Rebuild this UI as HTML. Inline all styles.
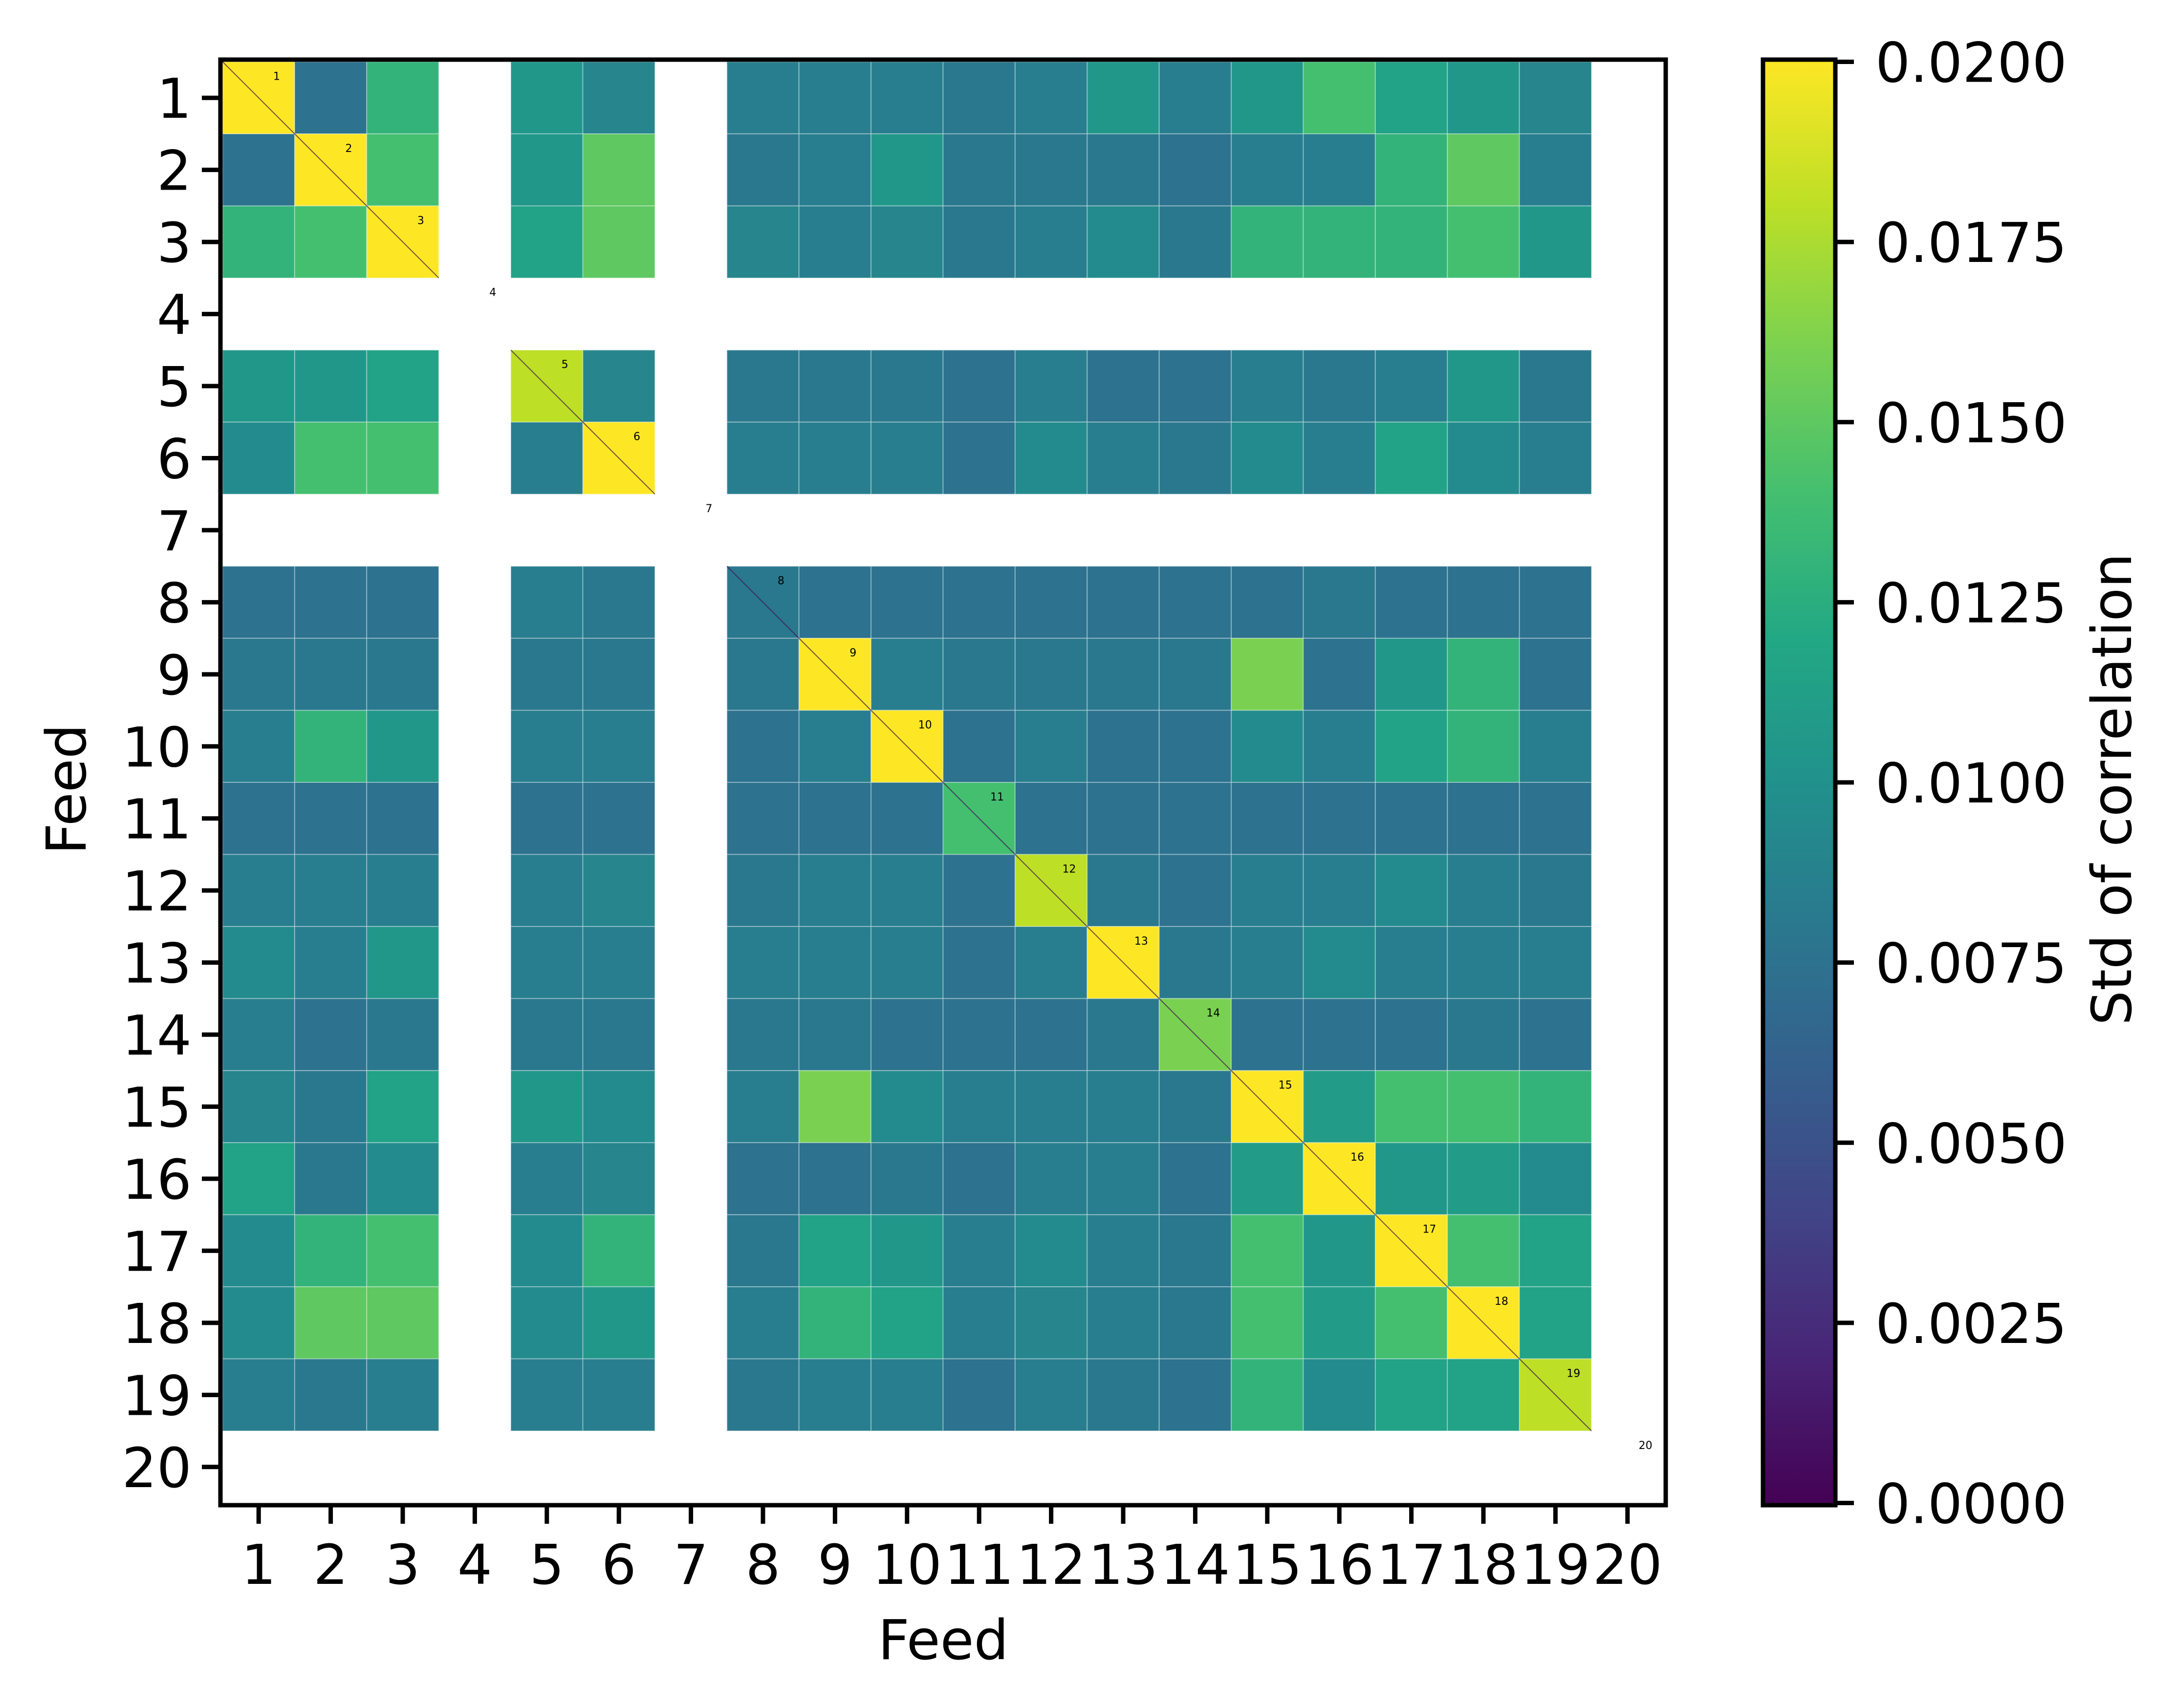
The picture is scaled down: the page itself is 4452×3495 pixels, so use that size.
<!DOCTYPE html>
<html><head><meta charset="utf-8">
<style>
html,body{margin:0;padding:0;background:#fff;}
svg{display:block;font-family:"DejaVu Sans","Liberation Sans",sans-serif;}
</style></head>
<body>
<svg id="chart" width="4452" height="3495" viewBox="0 0 4452 3495" xmlns="http://www.w3.org/2000/svg">
<defs>
<linearGradient id="vir" x1="0" y1="1" x2="0" y2="0"></linearGradient>
</defs>
<g id="cells"></g>
<g id="diaglabels"></g>
<rect x="451" y="122" width="2957" height="2958" fill="none" stroke="#000" stroke-width="9"/>
<g id="xticks"></g>
<g id="yticks"></g>
<text x="1930" y="3395" font-size="112" text-anchor="middle">Feed</text>
<text transform="translate(175,1615) rotate(-90)" font-size="112" text-anchor="middle">Feed</text>
<rect x="3607" y="122" width="148" height="2958" fill="url(#vir)" stroke="#000" stroke-width="9"/>
<g id="cbticks"></g>
<text transform="translate(4360,1615) rotate(-90)" font-size="112" text-anchor="middle">Std of correlation</text>
</svg>
<script>
const feeds = ["1","2","3","4","5","6","7","8","9","10","11","12","13","14","15","16","17","18","19","20"];
const cbTicks = [0,0.0025,0.005,0.0075,0.01,0.0125,0.015,0.0175,0.02];
const cbTickLabels = ["0.0000","0.0025","0.0050","0.0075","0.0100","0.0125","0.0150","0.0175","0.0200"];
const N = null;
const stdRow1  = [0.020,0.0075,0.013,N,0.0105,0.009,N,0.0085,0.0085,0.0085,0.008,0.0085,0.0105,0.0085,0.0105,0.014,0.0115,0.0105,0.009,N];
const stdRow2  = [0.0075,0.020,0.014,N,0.0105,0.015,N,0.008,0.0085,0.0105,0.008,0.008,0.008,0.0075,0.0085,0.0085,0.013,0.015,0.0085,N];
const stdRow3  = [0.013,0.014,0.020,N,0.0115,0.015,N,0.009,0.0085,0.009,0.008,0.0085,0.0095,0.008,0.013,0.013,0.013,0.014,0.0105,N];
const stdRow4  = [N,N,N,N,N,N,N,N,N,N,N,N,N,N,N,N,N,N,N,N];
const stdRow5  = [0.0105,0.0105,0.0115,N,0.018,0.009,N,0.008,0.008,0.008,0.0075,0.0085,0.0075,0.0075,0.0085,0.008,0.0085,0.0105,0.008,N];
const stdRow6  = [0.0095,0.014,0.014,N,0.0085,0.020,N,0.0085,0.0085,0.0085,0.0075,0.0095,0.0085,0.008,0.0095,0.0085,0.0115,0.0095,0.0085,N];
const stdRow7  = [N,N,N,N,N,N,N,N,N,N,N,N,N,N,N,N,N,N,N,N];
const stdRow8  = [0.0075,0.0075,0.0075,N,0.0085,0.008,N,0.008,0.0075,0.0075,0.0075,0.0075,0.0075,0.0075,0.0075,0.008,0.0075,0.0075,0.0075,N];
const stdRow9  = [0.008,0.008,0.008,N,0.008,0.008,N,0.008,0.020,0.0085,0.008,0.008,0.008,0.008,0.016,0.0075,0.0105,0.013,0.0075,N];
const stdRow10 = [0.0085,0.013,0.0105,N,0.0085,0.0085,N,0.0075,0.0085,0.020,0.0075,0.0085,0.0075,0.0075,0.0095,0.0085,0.0115,0.013,0.0085,N];
const stdRow11 = [0.0075,0.0075,0.0075,N,0.0075,0.0075,N,0.0075,0.0075,0.0075,0.014,0.0075,0.0075,0.0075,0.0075,0.0075,0.0075,0.0075,0.0075,N];
const stdRow12 = [0.0085,0.0085,0.0085,N,0.0085,0.009,N,0.008,0.0085,0.0085,0.0075,0.018,0.008,0.0075,0.0085,0.0085,0.0095,0.0085,0.008,N];
const stdRow13 = [0.0095,0.0085,0.0105,N,0.0085,0.0085,N,0.0085,0.0085,0.0085,0.0075,0.0085,0.020,0.008,0.0085,0.0095,0.0085,0.0085,0.0085,N];
const stdRow14 = [0.0085,0.0075,0.008,N,0.008,0.008,N,0.008,0.008,0.0075,0.0075,0.0075,0.008,0.016,0.0075,0.0075,0.0075,0.008,0.0075,N];
const stdRow15 = [0.009,0.008,0.0115,N,0.0105,0.0095,N,0.0085,0.016,0.0095,0.0085,0.0085,0.0085,0.008,0.020,0.011,0.014,0.014,0.013,N];
const stdRow16 = [0.0115,0.008,0.0095,N,0.0085,0.009,N,0.0075,0.0075,0.008,0.0075,0.0085,0.0085,0.0075,0.011,0.020,0.0105,0.011,0.0095,N];
const stdRow17 = [0.0095,0.013,0.014,N,0.0095,0.013,N,0.008,0.0115,0.0105,0.0085,0.0095,0.0085,0.008,0.014,0.0105,0.020,0.014,0.0115,N];
const stdRow18 = [0.0095,0.015,0.015,N,0.0095,0.0105,N,0.0085,0.013,0.0115,0.0085,0.009,0.0085,0.008,0.014,0.011,0.014,0.020,0.0115,N];
const stdRow19 = [0.0085,0.008,0.0085,N,0.0085,0.0085,N,0.008,0.0085,0.0085,0.0075,0.0085,0.008,0.0075,0.013,0.0095,0.0115,0.0115,0.018,N];
const stdRow20 = [N,N,N,N,N,N,N,N,N,N,N,N,N,N,N,N,N,N,N,N];
const matrix = [stdRow1,stdRow2,stdRow3,stdRow4,stdRow5,stdRow6,stdRow7,stdRow8,stdRow9,stdRow10,stdRow11,stdRow12,stdRow13,stdRow14,stdRow15,stdRow16,stdRow17,stdRow18,stdRow19,stdRow20];

const NS = "http://www.w3.org/2000/svg";
const VIR = ["#440154","#482475","#414487","#355f8d","#2a788e","#21918c","#22a884","#44bf70","#7ad151","#bddf26","#fde725"];
const X0 = 455.5, X1 = 3403.5, Y0 = 126.5, Y1 = 3075.5;
const vmin = 0, vmax = 0.02;
const cw = (X1 - X0) / feeds.length, ch = (Y1 - Y0) / feeds.length;
const xPos = i => X0 + i * cw;
const yPos = i => Y0 + i * ch;
const cbY = v => 3075.5 - (v - vmin) / (vmax - vmin) * (3075.5 - 126.5);
function hex(h){return [1,3,5].map(k=>parseInt(h.substr(k,2),16));}
function viridis(v){
  let t = Math.max(0, Math.min(1, (v - vmin) / (vmax - vmin))) * (VIR.length - 1);
  const i = Math.min(VIR.length - 2, Math.floor(t)); const f = t - i;
  const a = hex(VIR[i]), b = hex(VIR[i + 1]);
  return "rgb(" + a.map((c, k) => Math.round(c + (b[k] - c) * f)).join(",") + ")";
}
function el(tag, attrs, parent){const e=document.createElementNS(NS,tag);for(const k in attrs)e.setAttribute(k,attrs[k]);parent.appendChild(e);return e;}

const grad = document.getElementById("vir");
VIR.forEach((c, i) => el("stop", {offset: (i / (VIR.length - 1) * 100) + "%", "stop-color": c}, grad));

const cells = document.getElementById("cells");
matrix.forEach((row, r) => row.forEach((v, c) => {
  if (v === null) return;
  const rc = el("rect", {x: xPos(c), y: yPos(r), width: cw, height: ch, fill: viridis(v), stroke: "rgba(255,255,255,0.35)", "stroke-width": 2}, cells);
  
  
}));
const dl = document.getElementById("diaglabels");
feeds.forEach((f, i) => {
  const ln = el("line", {x1: xPos(i), y1: yPos(i), x2: xPos(i) + cw, y2: yPos(i) + ch, stroke: "#3b0f4f", "stroke-width": 2, opacity: matrix[i][i] === null ? 0 : 0.7}, dl);
  
  
  const t = el("text", {x: xPos(i) + cw * 0.75, y: yPos(i) + ch * 0.25, "font-size": 22, "text-anchor": "middle"}, dl);
  t.textContent = f;
  
  
});
const xt = document.getElementById("xticks"), yt = document.getElementById("yticks");
feeds.forEach((f, i) => {
  const cx = xPos(i) + cw / 2, cy = yPos(i) + ch / 2;
  const a = el("line", {x1: cx, y1: 3084, x2: cx, y2: 3118, stroke: "#000", "stroke-width": 9}, xt);
  
  
  const at = el("text", {x: cx, y: 3241, "font-size": 112, "text-anchor": "middle"}, xt);
  at.textContent = f;
  
  
  const b = el("line", {x1: 447, y1: cy, x2: 413, y2: cy, stroke: "#000", "stroke-width": 9}, yt);
  
  
  const bt = el("text", {x: 392, y: cy + 41, "font-size": 112, "text-anchor": "end"}, yt);
  bt.textContent = f;
  
  
});
const cbt = document.getElementById("cbticks");
cbTicks.forEach((v, i) => {
  const y = cbY(v);
  const l = el("line", {x1: 3759, y1: y, x2: 3793, y2: y, stroke: "#000", "stroke-width": 9}, cbt);
  
  
  const t = el("text", {x: 3837, y: y + 41, "font-size": 112}, cbt);
  t.textContent = cbTickLabels[i];
  
  
});
</script>
</body></html>
